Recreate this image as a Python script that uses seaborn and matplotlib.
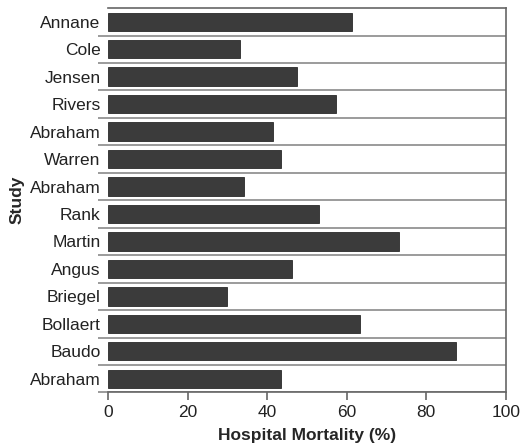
import pandas as pd
import matplotlib.pyplot as plt
import seaborn as sns
from matplotlib.ticker import FixedLocator

studies = ['Annane', 'Cole', 'Jensen', 'Rivers', 'Abraham', 'Warren', 'Abraham',
           'Rank', 'Martin', 'Angus', 'Briegel', 'Bollaert', 'Baudo', 'Abraham']
mortality = [61.4, 33.2, 47.4, 57.3, 41.5, 43.4, 34.2,
             53.0, 73.2, 46.3, 29.8, 63.4, 87.5, 43.4]
xticks = [0, 20, 40, 60, 80, 100]

sns.set_style('white')
plt.rcParams['font.family'] = ['Liberation Sans', 'DejaVu Sans']

# duplicate names (Abraham) -> use a unique row key, relabel afterwards
df = pd.DataFrame({'row': [str(i) for i in range(len(studies))],
                   'study': studies, 'mortality': mortality})

fig = plt.figure(figsize=(5.29, 4.47), dpi=100)
ax = fig.add_axes([0.2047, 0.122, 0.7513, 0.860])
sns.barplot(data=df, x='mortality', y='row', order=df['row'], orient='h',
            color='#3b3b3b', saturation=1, width=0.67, edgecolor='#2a2a2a',
            linewidth=0.6, ax=ax, zorder=3)

ax.set_xlim(0, 100)
ax.set_ylim(len(studies) - 0.5, -0.5)
ax.set_xticks(xticks)
ax.set_yticks(range(len(studies)))
ax.set_yticklabels(studies)
ax.tick_params(axis='y', which='major', left=False, length=0, pad=5.5,
               labelsize=12.5, labelcolor='#222222')
ax.tick_params(axis='x', which='major', bottom=True, length=6, width=1.2, color='#666666',
               labelsize=12.5, labelcolor='#222222', pad=3)

# separators between studies
ax.yaxis.set_minor_locator(FixedLocator([i + 0.5 for i in range(len(studies))]))
ax.tick_params(axis='y', which='minor', left=True, length=7, width=1.2, color='#8a8a8a')
ax.grid(axis='y', which='minor', color='#8a8a8a', linewidth=1.2, zorder=1)
ax.grid(axis='y', which='major', visible=False)

for side in ['top', 'right', 'bottom']:
    ax.spines[side].set_color('#666666')
    ax.spines[side].set_linewidth(1.2)
ax.spines['left'].set_visible(False)

ax.set_xlabel('Hospital Mortality (%)', fontsize=12.5, fontweight='bold', labelpad=6)
ax.set_ylabel('Study', fontsize=12.5, fontweight='bold', labelpad=4)

fig.savefig('out.png', dpi=100)
